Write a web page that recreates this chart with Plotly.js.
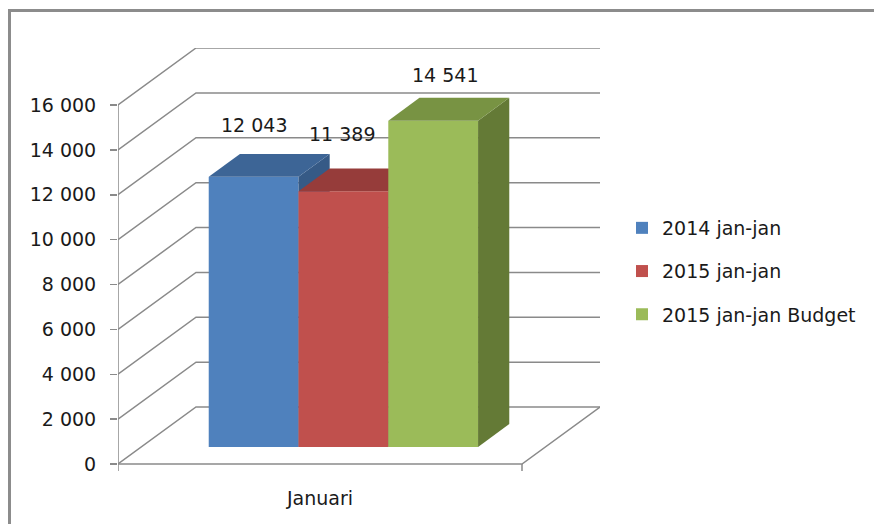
<!DOCTYPE html>
<html><head><meta charset="utf-8">
<script src="https://cdn.plot.ly/plotly-3.0.1.min.js"></script>
<style>
html,body{margin:0;padding:0;background:#fff;overflow:hidden;width:874px;height:524px}
#frame{position:absolute;left:8px;top:9px;width:900px;height:600px;border:3px solid #8c8c8c;box-sizing:border-box}
#chart{position:absolute;left:0;top:0;width:874px;height:524px}
</style></head><body>
<div id="frame"></div><div id="chart"></div>
<script>
// ---- data ----
const categories = ['Januari'];
const seriesNames = ['2014 jan-jan', '2015 jan-jan', '2015 jan-jan Budget'];
const seriesValues = [12043, 11389, 14541];
const yTickVals = [0, 2000, 4000, 6000, 8000, 10000, 12000, 14000, 16000];

// ---- style ----
const frontColors = ['#4F81BD', '#C0504D', '#9BBB59'];
const topColors = ['#3D6596', '#963C3A', '#789343'];
const sideColors = ['#365A86', '#84332F', '#647A36'];
const labelShiftX = [0, -1, 12];   // data-label nudges (px), as Excel placed them
const labelShiftY = [52, 57, 46];
const gridColor = '#8a8a8a';
const FONT = 'DejaVu Sans';

// ---- 3D projection geometry (pixels) ----
const ML = 118, PLOT_W = 482, MT = 48, PLOT_H = 424;
const yTop = Math.max(...yTickVals);
const k = 359 / yTop;             // px per value unit
const FW = 404;                   // front floor width (x units = px)
const DX = 78, DYv = 57 / k;      // full depth offset
const yMin = -8 / k, yMax = yTop + 57 / k;
const nS = seriesValues.length;
const barW = FW / (nS + 1.5);
const groupStart = 0.75 * barW;
const fFront = 0.3, fDepth = 0.4;

const traces = [];
// gridlines (back wall + left wall)
const gx = [], gy = [];
yTickVals.forEach(v => { gx.push(0, DX, DX + FW, null); gy.push(v, v + DYv, v + DYv, null); });
traces.push({type: 'scatter', mode: 'lines', x: gx, y: gy, line: {color: gridColor, width: 1.5}, showlegend: false, hoverinfo: 'skip', xaxis: 'x', yaxis: 'y'});
// axis line, floor, floor ticks
const tickDown = -7 / k;
traces.push({type: 'scatter', mode: 'lines',
  x: [0, 0, null, 0, FW, DX + FW, null, 0, 0, null, FW, FW],
  y: [0, yTop, null, 0, 0, DYv, null, 0, tickDown, null, 0, tickDown],
  line: {color: gridColor, width: 1.5}, showlegend: false, hoverinfo: 'skip', xaxis: 'x', yaxis: 'y'});

const annotations = [];
seriesValues.forEach((v, i) => {
  const ax = 'x' + (i + 2), ay = 'y' + (i + 2);
  const L = groupStart + i * barW + fFront * DX;
  const R = L + barW;
  const B = fFront * DYv;
  const T = B + v;
  const dbx = fDepth * DX, dby = fDepth * DYv;
  traces.push({type: 'bar', x: [(L + R) / 2], y: [v], base: [B], width: [barW], name: seriesNames[i],
    marker: {color: frontColors[i], line: {width: 0}}, legendgroup: 'g' + i, xaxis: ax, yaxis: ay, hoverinfo: 'skip'});
  traces.push({type: 'scatter', mode: 'lines', fill: 'toself', x: [R, R, R + dbx, R + dbx, R], y: [B, T, T + dby, B + dby, B],
    fillcolor: sideColors[i], line: {width: 0, color: sideColors[i]}, showlegend: false, hoverinfo: 'skip', xaxis: ax, yaxis: ay});
  traces.push({type: 'scatter', mode: 'lines', fill: 'toself', x: [L, R, R + dbx, L + dbx, L], y: [T, T, T + dby, T + dby, T],
    fillcolor: topColors[i], line: {width: 0, color: topColors[i]}, showlegend: false, hoverinfo: 'skip', xaxis: ax, yaxis: ay});
  annotations.push({x: (L + R) / 2, y: T, xref: 'x', yref: 'y', xshift: labelShiftX[i], yshift: labelShiftY[i], showarrow: false,
    text: String(v).replace(/\B(?=(\d{3})+(?!\d))/g, ' '), font: {family: FONT, size: 19, color: '#1a1a1a'}});
});

const layout = {
  width: 874, height: 524,
  margin: {l: ML, r: 874 - ML - PLOT_W, t: MT, b: 524 - MT - PLOT_H, autoexpand: false},
  paper_bgcolor: 'rgba(0,0,0,0)', plot_bgcolor: 'rgba(0,0,0,0)',
  separators: ', ',
  font: {family: FONT, size: 19, color: '#1a1a1a'},
  showlegend: true,
  legend: {x: (622 - ML) / PLOT_W, xanchor: 'left', y: (MT + PLOT_H - 209) / PLOT_H, yanchor: 'top',
    tracegroupgap: 15.5, font: {family: FONT, size: 19, color: '#1a1a1a'}, bgcolor: 'rgba(0,0,0,0)'},
  xaxis: {range: [0, FW + DX], showgrid: false, zeroline: false, showline: false, ticks: '',
    tickvals: [FW / 2], ticktext: categories, ticklabelstandoff: 13, fixedrange: true},
  yaxis: {range: [yMin, yMax], showgrid: false, zeroline: false, showline: false, ticks: 'outside', ticklen: 7,
    tickcolor: gridColor, tickwidth: 1.5, tickvals: yTickVals, tickformat: ',d', separatethousands: true,
    ticklabelstandoff: 10, fixedrange: true},
  annotations: annotations
};
for (let i = 2; i <= nS + 1; i++) {
  layout['xaxis' + i] = {range: [0, FW + DX], overlaying: 'x', visible: false, fixedrange: true};
  layout['yaxis' + i] = {range: [yMin, yMax], overlaying: 'y', visible: false, fixedrange: true};
}
Plotly.newPlot('chart', traces, layout, {displayModeBar: false, staticPlot: true});
</script></body></html>
